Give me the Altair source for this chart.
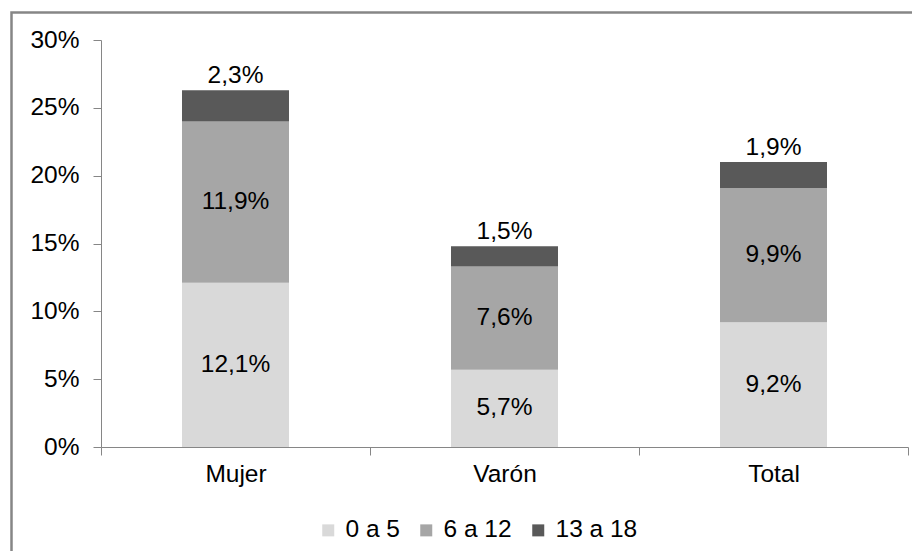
import altair as alt
import pandas as pd

categories = ["Mujer", "Varón", "Total"]
series = ["0 a 5", "6 a 12", "13 a 18"]
values_0_5 = [12.1, 5.7, 9.2]
values_6_12 = [11.9, 7.6, 9.9]
values_13_18 = [2.3, 1.5, 1.9]
colors = ["#D9D9D9", "#A6A6A6", "#595959"]
y_ticks = [0, 5, 10, 15, 20, 25, 30]

rows = []
for i, c in enumerate(categories):
    base = 0.0
    for k, (s, vals) in enumerate(zip(series, [values_0_5, values_6_12, values_13_18])):
        v = vals[i]
        rows.append({
            "cat": c, "serie": s, "val": v, "ord": k,
            "mid": base + v / 2, "top": base + v,
            "label": f"{v:.1f}".replace(".", ",") + "%",
        })
        base += v
df = pd.DataFrame(rows)

FONT = "Liberation Sans"
FS = 24.5

x = alt.X("cat:N", sort=categories, title=None,
          scale=alt.Scale(paddingInner=0, paddingOuter=0),
          axis=alt.Axis(labelAngle=0, tickBand="extent", domainColor="#868686",
                        tickColor="#868686", tickSize=8, labelPadding=7,
                        labelFont=FONT, labelFontSize=FS, labelColor="#000000"))

bars = alt.Chart(df).mark_bar(size=107).encode(
    x=x,
    y=alt.Y("val:Q", stack="zero", title=None,
            scale=alt.Scale(domain=[0, 30]),
            axis=alt.Axis(values=y_ticks, labelExpr="datum.value + '%'", grid=False,
                          domainColor="#868686", tickColor="#868686", tickSize=8,
                          labelPadding=14, labelFont=FONT, labelFontSize=FS,
                          labelColor="#000000")),
    color=alt.Color("serie:N", sort=series,
                    scale=alt.Scale(domain=series, range=colors),
                    legend=alt.Legend(title=None, orient="none", direction="horizontal",
                                      legendX=215, legendY=478, symbolType="square",
                                      symbolSize=144, symbolStrokeWidth=0,
                                      labelFont=FONT, labelFontSize=FS,
                                      labelColor="#000000", labelOffset=5,
                                      columnPadding=14)),
    order=alt.Order("ord:Q"),
)

inner = alt.Chart(df).transform_filter("datum.ord < 2").mark_text(
    font=FONT, fontSize=FS, color="#000000", baseline="middle"
).encode(x=alt.X("cat:N", sort=categories), y=alt.Y("mid:Q"), text="label:N")

top = alt.Chart(df).transform_filter("datum.ord == 2").mark_text(
    font=FONT, fontSize=FS, color="#000000", baseline="bottom", dy=-2
).encode(x=alt.X("cat:N", sort=categories), y=alt.Y("top:Q"), text="label:N")

frame = alt.Chart(alt.Data(values=[{}])).mark_rect(
    fill=None, stroke="#868686", strokeWidth=2.5
).encode(x=alt.value(-89.5), x2=alt.value(900), y=alt.value(-27.5), y2=alt.value(700))

chart = alt.layer(frame, bars, inner, top).properties(
    width=807, height=407, autosize="none",
    padding={"left": 93, "top": 32, "right": 4, "bottom": 104},
).configure_view(stroke=None).configure_axis(tickColor="#868686")

chart.save("out.html", embed_options={"renderer": "svg", "actions": False})
